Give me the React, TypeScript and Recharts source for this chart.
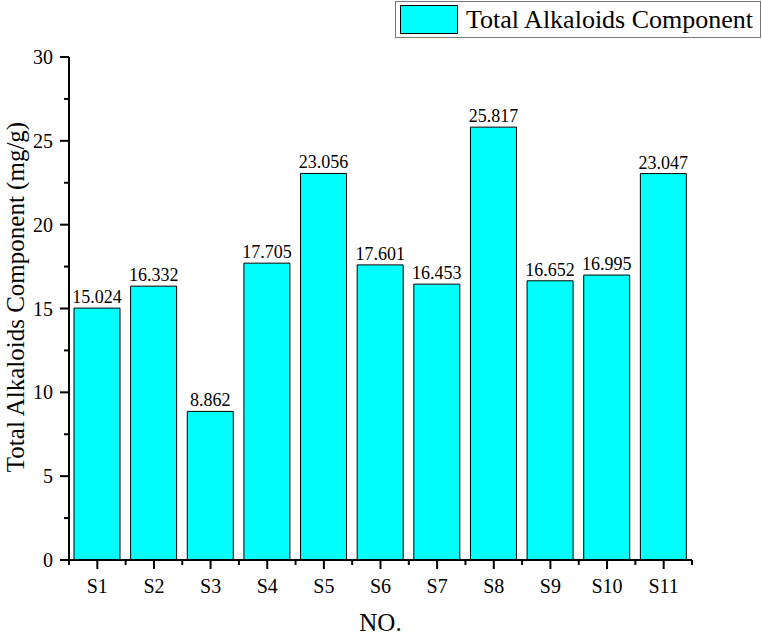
import React from 'react';
import { BarChart, Bar, XAxis, YAxis, LabelList } from 'recharts';

const samples = ['S1', 'S2', 'S3', 'S4', 'S5', 'S6', 'S7', 'S8', 'S9', 'S10', 'S11'];
const alkaloids = [15.024, 16.332, 8.862, 17.705, 23.056, 17.601, 16.453, 25.817, 16.652, 16.995, 23.047];
const yTicks = [0, 2.5, 5, 7.5, 10, 12.5, 15, 17.5, 20, 22.5, 25, 27.5, 30];

const data = samples.map((name, i) => ({ name, value: alkaloids[i] }));

const W = 762;
const H = 636;
const LEFT = 69;
const RIGHT = 692;
const TOP = 57;
const BOTTOM = 560;
const band = (RIGHT - LEFT) / samples.length;
const font = "'Liberation Serif'";

const YTick = ({ x, y, payload }: any) => {
  const major = payload.value % 5 === 0;
  return (
    <g>
      <line x1={x} x2={x - (major ? 9 : 5)} y1={y} y2={y} stroke="#000" strokeWidth={2} />
      {major && (
        <text x={x - 16} y={y} dy={7} textAnchor="end" fontSize={20} style={{ fontFamily: font }} fill="#000">
          {payload.value}
        </text>
      )}
    </g>
  );
};

const XTick = ({ x, y, payload, index }: any) => {
  const last = index === samples.length - 1;
  return (
    <g>
      <line x1={x} x2={x} y1={y} y2={y + 9} stroke="#000" strokeWidth={2} />
      <line x1={x - band / 2} x2={x - band / 2} y1={y} y2={y + 5} stroke="#000" strokeWidth={2} />
      {last && <line x1={x + band / 2} x2={x + band / 2} y1={y} y2={y + 5} stroke="#000" strokeWidth={2} />}
      <text x={x} y={y + 33} textAnchor="middle" fontSize={20} style={{ fontFamily: font }} fill="#000">
        {payload.value}
      </text>
    </g>
  );
};

const YLabel = () => (
  <text
    x={24}
    y={297}
    transform="rotate(-90, 24, 297)"
    textAnchor="middle"
    fontSize={25}
    style={{ fontFamily: font }}
    fill="#000"
  >
    Total Alkaloids Component (mg/g)
  </text>
);

export default function App() {
  return (
    <div style={{ position: 'absolute', left: 0, top: 0, width: W, height: H, background: '#fff', fontFamily: font }}>
      <BarChart width={W} height={H} data={data} margin={{ top: TOP, right: W - RIGHT, bottom: 0, left: 0 }}>
        <XAxis
          dataKey="name"
          height={H - BOTTOM}
          tick={<XTick />}
          tickLine={false}
          tickSize={0}
          tickMargin={0}
          interval={0}
          axisLine={{ stroke: '#000', strokeWidth: 2 }}
          label={{ value: 'NO.', position: 'insideBottom', offset: 5, fontSize: 25, style: { fontFamily: font }, fill: '#000' }}
        />
        <YAxis
          width={LEFT}
          domain={[0, 30]}
          ticks={yTicks}
          interval={0}
          tick={<YTick />}
          tickLine={false}
          tickSize={0}
          tickMargin={0}
          axisLine={{ stroke: '#000', strokeWidth: 2 }}
          label={{ content: () => <YLabel /> }}
        />
        <Bar dataKey="value" fill="#00FFFF" stroke="#000" strokeWidth={1} barSize={46} isAnimationActive={false}>
          <LabelList
            dataKey="value"
            position="top"
            offset={5}
            formatter={(v: any) => Number(v).toFixed(3)}
            fontSize={18}
            style={{ fontFamily: font }}
            fill="#000"
          />
        </Bar>
      </BarChart>
      <div
        style={{
          position: 'absolute',
          left: 395,
          top: 1,
          border: '1px solid #777',
          width: 366,
          height: 37,
          display: 'flex',
          alignItems: 'center',
          boxSizing: 'border-box',
          background: '#fff',
        }}
      >
        <div style={{ width: 58, height: 29, background: '#00FFFF', border: '1px solid #000', marginLeft: 4, boxSizing: 'border-box' }} />
        <span style={{ fontSize: 26, marginLeft: 8, color: '#000', whiteSpace: 'nowrap' }}>Total Alkaloids Component</span>
      </div>
    </div>
  );
}
